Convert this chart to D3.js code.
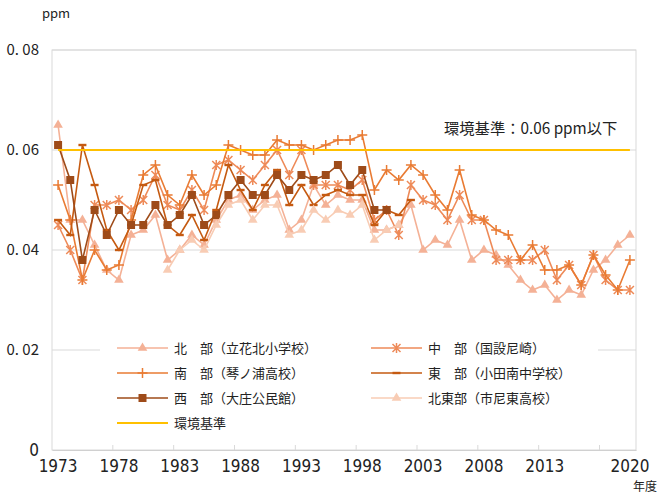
<!DOCTYPE html>
<html>
<head>
<meta charset="utf-8">
<script src="https://cdn.jsdelivr.net/npm/d3@7"></script>
<style>
  body { margin: 0; background: #fff; }
  svg text { fill: #222; }
</style>
</head>
<body>
<script>
const years = [1973,1974,1975,1976,1977,1978,1979,1980,1981,1982,
  1983,1984,1985,1986,1987,1988,1989,1990,1991,1992,
  1993,1994,1995,1996,1997,1998,1999,2000,2001,2002,
  2003,2004,2005,2006,2007,2008,2009,2010,2011,2012,
  2013,2014,2015,2016,2017,2018,2019,2020];

const labelYears = [1973, 1978, 1983, 1988, 1993, 1998, 2003, 2008, 2013, 2020];
const yTicks = [0, 0.02, 0.04, 0.06, 0.08];
const yTickLabels = ['0', '0. 02', '0. 04', '0. 06', '0. 08'];

const northVals = [0.065,0.046,0.046,0.041,0.036,0.034,0.043,0.044,0.047,0.038,
  0.040,0.043,0.041,0.046,0.050,0.051,0.048,0.050,0.051,0.044,
  0.046,0.053,0.049,0.051,0.050,0.050,0.044,0.044,0.045,0.049,
  0.040,0.042,0.041,0.046,0.038,0.040,0.039,0.037,0.034,0.032,
  0.033,0.030,0.032,0.031,0.036,0.038,0.041,0.043];
const centralVals = [0.045,0.040,0.034,0.049,0.049,0.050,0.048,0.050,0.055,0.049,
  0.048,0.052,0.048,0.057,0.058,0.056,0.054,0.057,0.060,0.055,
  0.060,0.053,0.053,0.053,0.052,0.054,0.046,0.048,0.043,0.053,
  0.050,0.049,0.046,0.051,0.046,0.046,0.038,0.038,0.038,0.038,
  0.040,0.034,0.037,0.033,0.039,0.034,0.032,0.032];
const southVals = [0.053,0.046,0.034,0.040,0.036,0.037,0.046,0.055,0.057,0.051,
  0.049,0.055,0.051,0.053,0.061,0.060,0.059,0.059,0.062,0.061,
  0.061,0.060,0.061,0.062,0.062,0.063,0.052,0.056,0.054,0.057,
  0.055,0.051,0.048,0.056,0.047,0.046,0.044,0.043,0.038,0.041,
  0.036,0.036,0.037,0.033,0.039,0.035,0.032,0.038];
const eastVals = [0.046,0.043,0.061,0.053,0.044,0.040,0.045,0.053,0.054,0.045,
  0.043,0.047,0.042,0.048,0.057,0.052,0.048,0.053,0.056,0.049,
  0.053,0.049,0.051,0.052,0.051,0.051,0.045,0.048,0.047,0.050,
  null,null,null,null,null,null,null,null,null,null,
  null,null,null,null,null,null,null,null];
const westVals = [0.061,0.054,0.038,0.048,0.043,0.048,0.045,0.045,0.049,0.045,
  0.047,0.051,0.045,0.047,0.051,0.054,0.051,0.051,0.055,0.052,
  0.055,0.054,0.055,0.057,0.053,0.056,0.048,0.048,null,null,
  null,null,null,null,null,null,null,null,null,null,
  null,null,null,null,null,null,null,null];
const northEastVals = [null,null,null,null,null,null,null,null,null,0.036,
  0.040,0.042,0.040,0.045,0.049,0.050,0.046,0.049,0.049,0.043,
  0.044,0.048,0.046,0.048,0.047,0.049,0.042,0.044,0.045,null,
  null,null,null,null,null,null,null,null,null,null,
  null,null,null,null,null,null,null,null];
const standardValue = 0.06;

const seriesNames = ['北　部（立花北小学校）', '中　部（国設尼崎）', '南　部（琴ノ浦高校）',
  '東　部（小田南中学校）', '西　部（大庄公民館）', '北東部（市尼東高校）'];
const standardName = '環境基準';

const width = 660, height = 495;
const margin = {top: 50, right: 24, bottom: 45, left: 52};

const svg = d3.select('body').append('svg')
  .attr('width', width)
  .attr('height', height);

const xScale = d3.scaleBand()
  .domain(years)
  .range([margin.left, width - margin.right]);
const yScale = d3.scaleLinear()
  .domain([0, 0.08])
  .range([height - margin.bottom, margin.top]);
const cx = yr => xScale(yr) + xScale.bandwidth() / 2;

const plotL = margin.left, plotR = width - margin.right;
const plotT = margin.top, plotB = height - margin.bottom;

// grid + border
svg.append('g').selectAll('line')
  .data(yTicks.filter(d => d > 0))
  .enter().append('line')
  .attr('x1', plotL).attr('x2', plotR)
  .attr('y1', d => yScale(d)).attr('y2', d => yScale(d))
  .attr('stroke', '#d9d9d9').attr('stroke-width', 1);
svg.append('rect')
  .attr('x', plotL).attr('y', plotT)
  .attr('width', plotR - plotL).attr('height', plotB - plotT)
  .attr('fill', 'none').attr('stroke', '#d9d9d9');

// x axis
const xAxis = d3.axisBottom(xScale)
  .tickValues(labelYears)
  .tickSize(0)
  .tickPadding(10);
const gx = svg.append('g')
  .attr('transform', 'translate(0,' + plotB + ')')
  .call(xAxis);
gx.select('.domain').attr('stroke', '#d0d0d0');
gx.selectAll('text')
  .style('font-family', "'Liberation Sans Narrow', 'DejaVu Sans Condensed', sans-serif")
  .style('font-stretch', 'condensed')
  .style('font-size', '17px')
  .attr('fill', '#222');

// boundary tick marks every 5 years
svg.append('g').selectAll('line')
  .data(years.filter((d, i) => i > 0 && i % 5 === 0))
  .enter().append('line')
  .attr('x1', d => xScale(d)).attr('x2', d => xScale(d))
  .attr('y1', plotB).attr('y2', plotB - 5)
  .attr('stroke', '#d9d9d9');

// y axis
const yAxis = d3.axisLeft(yScale)
  .tickValues(yTicks)
  .tickSize(0)
  .tickPadding(13)
  .tickFormat((d, i) => yTickLabels[i]);
const gy = svg.append('g')
  .attr('transform', 'translate(' + plotL + ',0)')
  .call(yAxis);
gy.select('.domain').remove();
gy.selectAll('text')
  .style('font-family', "'Noto Sans CJK JP', sans-serif")
  .style('font-size', '15px')
  .attr('fill', '#222');
gy.selectAll('text').filter(d => d === 0)
  .style('font-family', "'Liberation Sans Narrow', 'DejaVu Sans Condensed', sans-serif")
  .style('font-size', '17px');

svg.append('text')
  .attr('x', 42).attr('y', 18)
  .style('font-family', "'Noto Sans CJK JP', sans-serif")
  .style('font-size', '13px')
  .text('ppm');
svg.append('text')
  .attr('x', 633).attr('y', 491)
  .style('font-family', "'Noto Sans CJK JP', sans-serif")
  .style('font-size', '12px')
  .text('年度');

// markers
const asteriskPath = 'M-4,-4L4,4M-4,4L4,-4M0,-5L0,5';
const plusPath = 'M-5,0L5,0M0,-5L0,5';
const dashPath = 'M-4,-1.2H4V1.2H-4Z';
const markers = [
  {type: 'tri', size: 40},
  {type: 'path', d: asteriskPath},
  {type: 'path', d: plusPath},
  {type: 'fill', d: dashPath},
  {type: 'square', size: 64},
  {type: 'tri', size: 40}
];
const colors = ['#f4b196', '#ee8a58', '#e97b33', '#c55a11', '#9e4b19', '#f8ccb4'];
const allVals = [northVals, centralVals, southVals, eastVals, westVals, northEastVals];

function drawMarker(g, m, color) {
  if (m.type === 'tri') {
    g.append('path').attr('d', d3.symbol(d3.symbolTriangle, m.size)()).attr('fill', color);
  } else if (m.type === 'square') {
    g.append('path').attr('d', d3.symbol(d3.symbolSquare, m.size)()).attr('fill', color);
  } else if (m.type === 'fill') {
    g.append('path').attr('d', m.d).attr('fill', color);
  } else {
    g.append('path').attr('d', m.d).attr('stroke', color).attr('stroke-width', 1.5).attr('fill', 'none');
  }
}

const line = d3.line()
  .defined(d => d.v !== null)
  .x(d => cx(d.yr))
  .y(d => yScale(d.v));

allVals.forEach((vals, s) => {
  const data = years.map((yr, i) => ({yr: yr, v: vals[i]}));
  svg.append('path')
    .datum(data)
    .attr('d', line)
    .attr('fill', 'none')
    .attr('stroke', colors[s])
    .attr('stroke-width', 1.6);
  const pts = svg.append('g');
  data.filter(d => d.v !== null).forEach(d => {
    const g = pts.append('g').attr('transform', 'translate(' + cx(d.yr) + ',' + yScale(d.v) + ')');
    drawMarker(g, markers[s], colors[s]);
  });
});

// standard line
svg.append('line')
  .attr('x1', cx(years[0])).attr('x2', cx(years[years.length - 1]))
  .attr('y1', yScale(standardValue)).attr('y2', yScale(standardValue))
  .attr('stroke', '#ffc000').attr('stroke-width', 2);

svg.append('text')
  .attr('x', 444).attr('y', 134)
  .style('font-family', "'Noto Sans CJK JP', sans-serif")
  .style('font-size', '15.3px')
  .text('環境基準：0.06 ppm以下');

// legend
const legend = svg.append('g');
legend.append('rect')
  .attr('x', 100).attr('y', 334)
  .attr('width', 498).attr('height', 102)
  .attr('fill', '#fff');
const legendItems = seriesNames.map((name, i) => ({name: name, color: colors[i], marker: markers[i]}));
legendItems.push({name: standardName, color: '#ffc000', marker: null});
legendItems.forEach((item, i) => {
  const col = i % 2, row = Math.floor(i / 2);
  const lx = col === 0 ? 117 : 371;
  const ly = 348 + row * 25;
  const g = legend.append('g').attr('transform', 'translate(' + lx + ',' + ly + ')');
  g.append('line').attr('x1', 0).attr('x2', 51).attr('y1', 0).attr('y2', 0)
    .attr('stroke', item.color).attr('stroke-width', item.marker ? 1.6 : 2);
  if (item.marker) {
    const mg = g.append('g').attr('transform', 'translate(25.5,0)');
    drawMarker(mg, item.marker, item.color);
  }
  g.append('text')
    .attr('x', 57).attr('y', 0).attr('dy', '0.35em')
    .style('font-family', "'Noto Sans CJK JP', sans-serif")
    .style('font-size', '13px')
    .text(item.name);
});
</script>
</body>
</html>
